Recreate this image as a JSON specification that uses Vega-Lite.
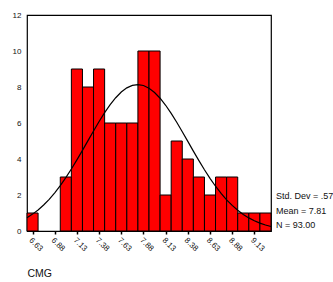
{
  "$schema": "https://vega.github.io/schema/vega-lite/v6.json",
  "width": 244,
  "height": 216,
  "autosize": {"type": "none"},
  "padding": {"left": 27, "top": 15, "right": 62, "bottom": 51},
  "background": "white",
  "config": {
    "font": "Liberation Sans",
    "view": {"stroke": "#000", "strokeWidth": 1.2},
    "axis": {"grid": false, "domain": false, "labelFlush": false, "labelOverlap": false, "labelColor": "#111", "titleColor": "#111", "labelFont": "Liberation Sans", "titleFont": "Liberation Sans", "titleFontWeight": "normal"}
  },
  "datasets": {
    "bins": [
      {"lo": 6.5625, "hi": 6.6875, "n": 1},
      {"lo": 6.9375, "hi": 7.0625, "n": 3},
      {"lo": 7.0625, "hi": 7.1875, "n": 9},
      {"lo": 7.1875, "hi": 7.3125, "n": 8},
      {"lo": 7.3125, "hi": 7.4375, "n": 9},
      {"lo": 7.4375, "hi": 7.5625, "n": 6},
      {"lo": 7.5625, "hi": 7.6875, "n": 6},
      {"lo": 7.6875, "hi": 7.8125, "n": 6},
      {"lo": 7.8125, "hi": 7.9375, "n": 10},
      {"lo": 7.9375, "hi": 8.0625, "n": 10},
      {"lo": 8.0625, "hi": 8.1875, "n": 2},
      {"lo": 8.1875, "hi": 8.3125, "n": 5},
      {"lo": 8.3125, "hi": 8.4375, "n": 4},
      {"lo": 8.4375, "hi": 8.5625, "n": 3},
      {"lo": 8.5625, "hi": 8.6875, "n": 2},
      {"lo": 8.6875, "hi": 8.8125, "n": 3},
      {"lo": 8.8125, "hi": 8.9375, "n": 3},
      {"lo": 8.9375, "hi": 9.0625, "n": 1},
      {"lo": 9.0625, "hi": 9.1875, "n": 1},
      {"lo": 9.1875, "hi": 9.3125, "n": 1}
    ],
    "curve": [
      {"x": 6.5625, "y": 0.7418}, {"x": 6.625, "y": 0.9375}, {"x": 6.6875, "y": 1.1702},
      {"x": 6.75, "y": 1.4438}, {"x": 6.8125, "y": 1.7596}, {"x": 6.875, "y": 2.1191},
      {"x": 6.9375, "y": 2.5214}, {"x": 7.0, "y": 2.9642}, {"x": 7.0625, "y": 3.4431},
      {"x": 7.125, "y": 3.9522}, {"x": 7.1875, "y": 4.4818}, {"x": 7.25, "y": 5.0214},
      {"x": 7.3125, "y": 5.559}, {"x": 7.375, "y": 6.0807}, {"x": 7.4375, "y": 6.572},
      {"x": 7.5, "y": 7.0178}, {"x": 7.5625, "y": 7.4043}, {"x": 7.625, "y": 7.7188},
      {"x": 7.6875, "y": 7.9505}, {"x": 7.75, "y": 8.0913}, {"x": 7.8125, "y": 8.1362},
      {"x": 7.875, "y": 8.0836}, {"x": 7.9375, "y": 7.9352}, {"x": 8.0, "y": 7.6966},
      {"x": 8.0625, "y": 7.3759}, {"x": 8.125, "y": 6.9841}, {"x": 8.1875, "y": 6.5341},
      {"x": 8.25, "y": 6.04}, {"x": 8.3125, "y": 5.5165}, {"x": 8.375, "y": 4.9782},
      {"x": 8.4375, "y": 4.4388}, {"x": 8.5, "y": 3.9105}, {"x": 8.5625, "y": 3.4037},
      {"x": 8.625, "y": 2.9274}, {"x": 8.6875, "y": 2.4877}, {"x": 8.75, "y": 2.0887},
      {"x": 8.8125, "y": 1.7328}, {"x": 8.875, "y": 1.4204}, {"x": 8.9375, "y": 1.1501},
      {"x": 9.0, "y": 0.9204}, {"x": 9.0625, "y": 0.7277}, {"x": 9.125, "y": 0.5685},
      {"x": 9.1875, "y": 0.4388}, {"x": 9.25, "y": 0.3346}, {"x": 9.3125, "y": 0.2521}
    ]
  },
  "layer": [
    {
      "data": {"name": "bins"},
      "mark": {"type": "rect", "fill": "#ff0000", "stroke": "#000", "strokeWidth": 1},
      "encoding": {
        "x": {
          "field": "lo", "type": "quantitative",
          "scale": {"domain": [6.5625, 9.3125], "nice": false, "zero": false},
          "axis": {
            "values": [6.625, 6.875, 7.125, 7.375, 7.625, 7.875, 8.125, 8.375, 8.625, 8.875, 9.125],
            "tickCount": 30,
            "format": ".2f", "labelAngle": 45, "labelFontSize": 8, "labelPadding": 2,
            "tickSize": 3, "tickWidth": 1.5, "tickColor": "#000",
            "title": "CMG", "titleFontSize": 10.5, "titleAnchor": "start", "titleAlign": "left",
            "titleX": 0, "titleY": 42, "titleBaseline": "middle"
          }
        },
        "x2": {"field": "hi"},
        "y": {
          "field": "n", "type": "quantitative",
          "scale": {"domain": [0, 12], "nice": false},
          "axis": {"values": [0, 2, 4, 6, 8, 10, 12], "tickCount": 30, "format": "d", "ticks": false, "labelPadding": 6, "labelFontSize": 8, "title": null}
        },
        "y2": {"datum": 0}
      }
    },
    {
      "data": {"name": "curve"},
      "mark": {"type": "line", "color": "#000", "strokeWidth": 1.2},
      "encoding": {
        "x": {"field": "x", "type": "quantitative"},
        "y": {"field": "y", "type": "quantitative"}
      }
    },
    {
      "data": {"values": [{"k": 1}]},
      "mark": {"type": "text", "text": ["Std. Dev = .57", "Mean = 7.81", "N = 93.00"], "align": "left", "baseline": "middle", "lineHeight": 14.5, "fontSize": 9, "color": "#111"},
      "encoding": {
        "x": {"datum": 9.369, "type": "quantitative"},
        "y": {"datum": 1.94, "type": "quantitative"}
      }
    }
  ]
}
